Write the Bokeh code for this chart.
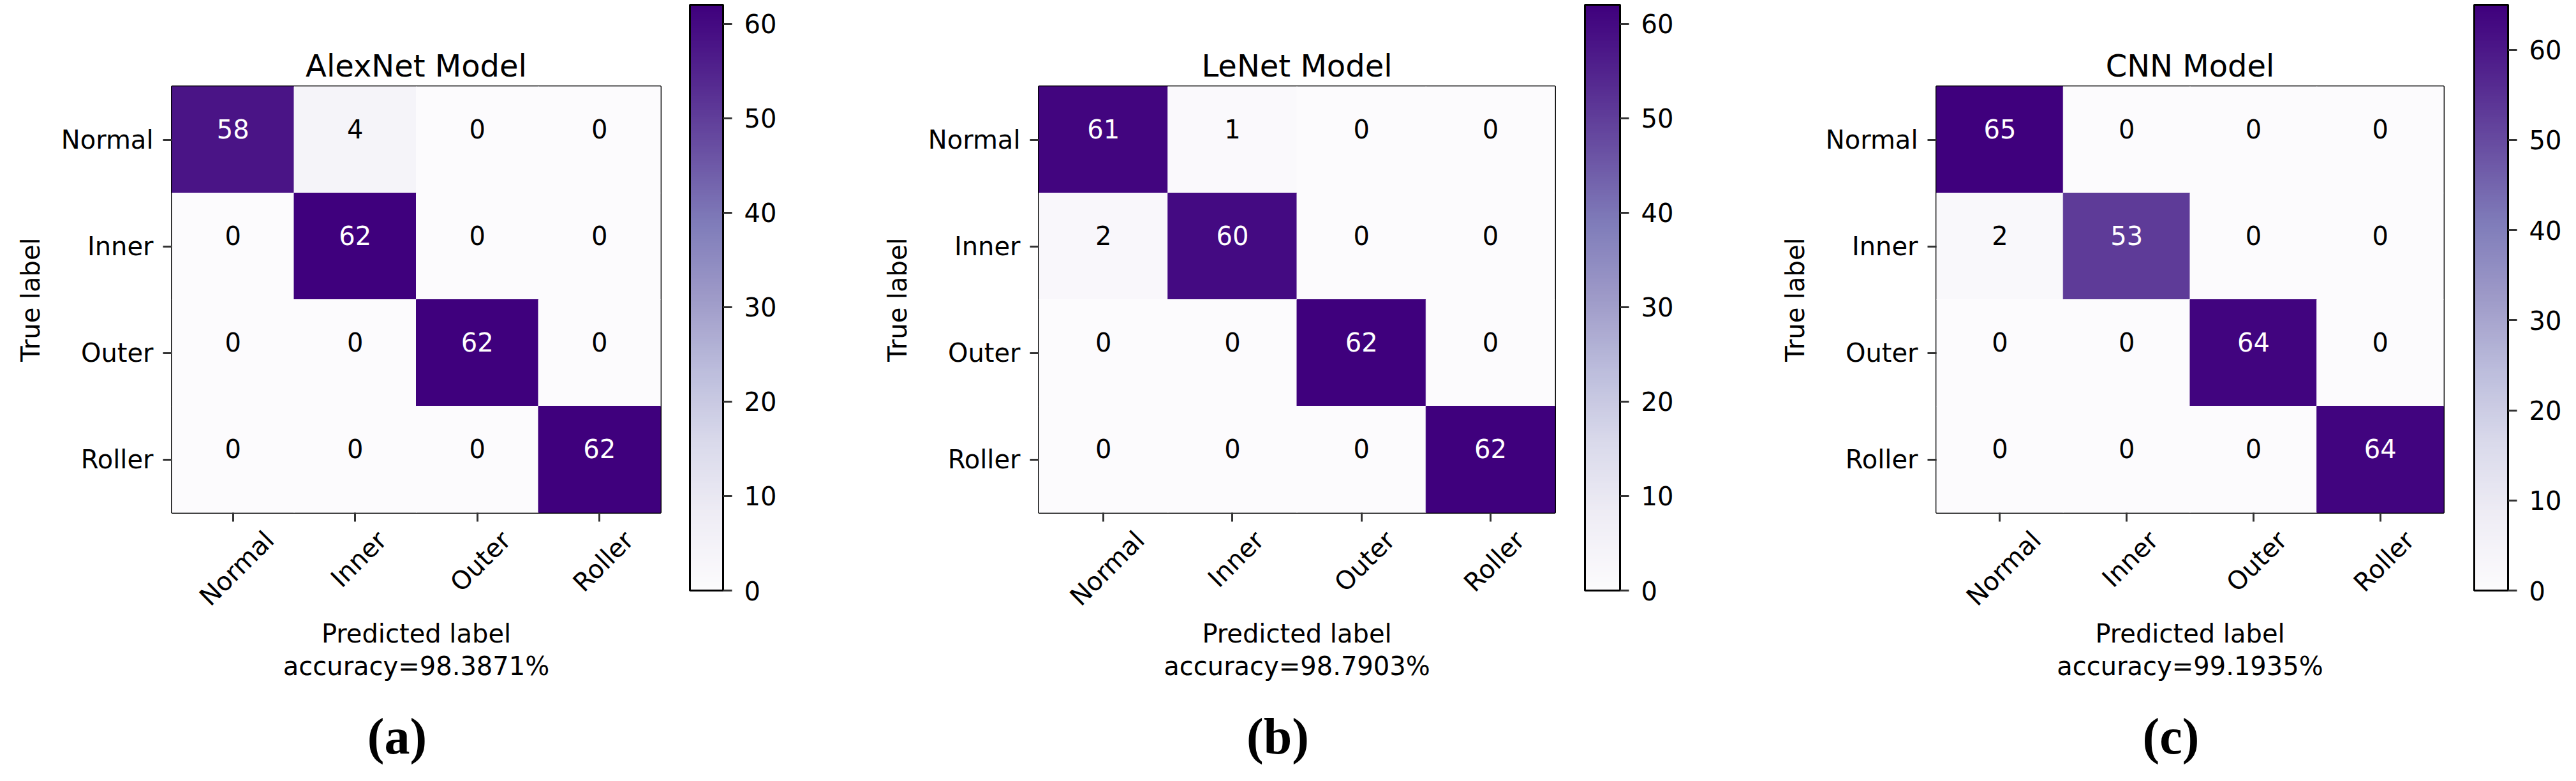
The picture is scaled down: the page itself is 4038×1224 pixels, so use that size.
import math
import numpy as np
from bokeh.plotting import figure
from bokeh.models import (Range1d, LinearAxis, FixedTicker, ColorBar,
                          LinearColorMapper, ColumnDataSource)
from bokeh.layouts import row
from bokeh.core.properties import value
from bokeh.embed import file_html
from bokeh.resources import INLINE
from bokeh.palettes import Purples9

# ---------------- data ----------------
CLASSES = ["Normal", "Inner", "Outer", "Roller"]
ALEXNET_CM = [[58, 4, 0, 0],
              [0, 62, 0, 0],
              [0, 0, 62, 0],
              [0, 0, 0, 62]]
LENET_CM = [[61, 1, 0, 0],
            [2, 60, 0, 0],
            [0, 0, 62, 0],
            [0, 0, 0, 62]]
CNN_CM = [[65, 0, 0, 0],
          [2, 53, 0, 0],
          [0, 0, 64, 0],
          [0, 0, 0, 64]]
TITLES = ["AlexNet Model", "LeNet Model", "CNN Model"]
ACCURACY = ["98.3871%", "98.7903%", "99.1935%"]
CAPTIONS = ["(a)", "(b)", "(c)"]
COLORBAR_TICKS = [0, 10, 20, 30, 40, 50, 60]

# ---------------- style ----------------
H = 1208
TOP = 135
FRAME_H = 668
CB_TOP = 7
CB_H = 918
FONT = "DejaVu Sans"
FS = "40px"
LABEL_SHIFT_PX = [57, 42, 45, 46]
CAPTION_PAD = "\u00a0\u00a0\u00a0"   # nudges the centred caption slightly left

base = list(reversed(Purples9))  # light -> dark (matplotlib Purples)
stops = np.array([[int(c[i:i + 2], 16) for i in (1, 3, 5)] for c in base], float)
pos = np.linspace(0, 1, len(base))
tt = np.linspace(0, 1, 256)
PURPLES = ["#%02x%02x%02x" % tuple(int(round(np.interp(t, pos, stops[:, k]))) for k in range(3))
           for t in tt]


def style_ticks(ax):
    ax.axis_line_color = None
    ax.major_tick_out = 14
    ax.major_tick_in = 0
    ax.minor_tick_out = 0
    ax.minor_tick_in = 0
    ax.major_tick_line_width = 3
    ax.major_tick_line_color = "#333333"
    ax.major_label_text_font = FONT
    ax.major_label_text_font_size = FS
    ax.major_label_text_color = "black"


def heatmap(cm, title, acc, caption, left, frame_w, right, cb_gap, cb_w):
    cm = np.array(cm)
    n = len(CLASSES)
    vmax = int(cm.max())
    mapper = LinearColorMapper(palette=PURPLES, low=0, high=vmax)
    xs, ys, vals, txt, tcol = [], [], [], [], []
    for i in range(n):
        for j in range(n):
            v = int(cm[i, j])
            xs.append(j + 0.5)
            ys.append(i + 0.5)
            vals.append(v)
            txt.append(str(v))
            tcol.append("white" if v > vmax / 2 else "black")
    src = ColumnDataSource(dict(x=xs, y=ys, v=vals, t=txt, c=tcol))
    centers = [k + 0.5 for k in range(n)]

    p = figure(width=left + frame_w + right, height=H,
               x_range=Range1d(0, n), y_range=Range1d(n, 0),
               output_backend="svg", toolbar_location=None,
               min_border_left=left, min_border_right=right,
               min_border_top=TOP, min_border_bottom=H - TOP - FRAME_H,
               title=title)
    p.rect(x="x", y="y", width=1, height=1, source=src,
           fill_color={"field": "v", "transform": mapper},
           line_color={"field": "v", "transform": mapper}, line_width=1)
    p.text(x="x", y="y", text="t", text_color="c", source=src,
           text_align="center", text_baseline="middle",
           text_font=value(FONT), text_font_size=value(FS), y_offset=-17)

    p.grid.visible = False
    p.outline_line_color = "black"
    p.outline_line_width = 3
    p.outline_line_alpha = 1

    p.title.align = "center"
    p.title.text_font = FONT
    p.title.text_font_size = "48px"
    p.title.text_font_style = "normal"
    p.title.text_color = "black"
    p.title.standoff = 10

    ya = p.yaxis[0]
    style_ticks(ya)
    ya.ticker = FixedTicker(ticks=centers)
    ya.major_label_overrides = {c: CLASSES[k] for k, c in enumerate(centers)}
    ya.major_label_standoff = 15
    ya.axis_label = "True label"
    ya.axis_label_text_font = FONT
    ya.axis_label_text_font_size = FS
    ya.axis_label_text_font_style = "normal"
    ya.axis_label_text_color = "black"
    ya.axis_label_standoff = 22

    xa = p.xaxis[0]
    style_ticks(xa)
    xa.ticker = FixedTicker(ticks=centers)
    xa.major_label_overrides = {c: "" for c in centers}
    xa.major_label_text_font_size = "0px"
    xa.major_label_standoff = 0

    cell_px = frame_w / n
    p.extra_x_ranges = {"lbl": Range1d(0, n)}
    ticks = [round(centers[k] + LABEL_SHIFT_PX[k] / cell_px, 6) for k in range(n)]
    la = LinearAxis(x_range_name="lbl", ticker=FixedTicker(ticks=ticks),
                    major_label_overrides={tk: CLASSES[k] for k, tk in enumerate(ticks)})
    style_ticks(la)
    la.major_label_orientation = math.pi / 4
    la.major_tick_out = 0
    la.major_tick_line_color = None
    la.major_label_standoff = 22
    la.axis_label = "Predicted label\naccuracy=" + acc
    la.axis_label_text_font = FONT
    la.axis_label_text_font_size = FS
    la.axis_label_text_font_style = "normal"
    la.axis_label_text_color = "black"
    la.axis_label_text_line_height = 1.1
    la.axis_label_standoff = -7
    p.add_layout(la, "below")

    # sub-figure caption, drawn as the label of a bare axis below the others
    ca = LinearAxis(x_range_name="lbl", ticker=FixedTicker(ticks=[]))
    ca.axis_line_color = None
    ca.major_tick_out = 0
    ca.major_tick_in = 0
    ca.minor_tick_out = 0
    ca.minor_tick_in = 0
    ca.major_tick_line_color = None
    ca.minor_tick_line_color = None
    ca.major_label_text_font_size = "0px"
    ca.major_label_standoff = 0
    ca.axis_label = caption + CAPTION_PAD
    ca.axis_label_text_font = "Liberation Serif"
    ca.axis_label_text_font_size = "80px"
    ca.axis_label_text_font_style = "bold"
    ca.axis_label_text_color = "black"
    ca.axis_label_text_line_height = 1.0
    ca.axis_label_standoff = 40
    p.add_layout(ca, "below")

    frame_bottom = TOP + FRAME_H
    cb = ColorBar(color_mapper=mapper, ticker=FixedTicker(ticks=COLORBAR_TICKS),
                  orientation="vertical", width=cb_w, height=CB_H,
                  location=(frame_w + cb_gap, frame_bottom - (CB_TOP + CB_H)),
                  padding=0, margin=0,
                  bar_line_color="black", bar_line_width=3,
                  border_line_color=None, background_fill_color=None,
                  major_tick_out=14, major_tick_in=0,
                  major_tick_line_color="#333333", major_tick_line_width=3,
                  minor_tick_line_color=None,
                  label_standoff=19,
                  major_label_text_font=FONT, major_label_text_font_size=FS,
                  major_label_text_color="black")
    p.add_layout(cb, "center")
    return p


figs = [
    heatmap(ALEXNET_CM, TITLES[0], ACCURACY[0], CAPTIONS[0], 269, 766, 218, 46, 52),
    heatmap(LENET_CM, TITLES[1], ACCURACY[1], CAPTIONS[1], 375, 809, 222, 47, 55),
    heatmap(CNN_CM, TITLES[2], ACCURACY[2], CAPTIONS[2], 376, 795, 192, 48, 53),
]
layout = row(*figs, spacing=0)
open("out.html", "w").write(file_html(layout, INLINE))
